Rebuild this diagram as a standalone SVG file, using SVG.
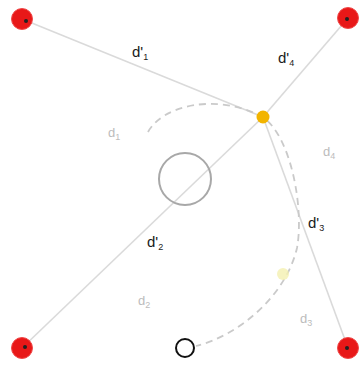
<svg xmlns="http://www.w3.org/2000/svg" width="360" height="368" viewBox="0 0 360 368">
<style>
.ln{stroke:#dadada;stroke-width:1.6;fill:none}
.dash{stroke:#cacaca;stroke-width:1.8;fill:none;stroke-dasharray:7 5}
.red{fill:#e81818;stroke:#f04a4a;stroke-width:1}
.mark{fill:#222}
.lbl{font-family:"Liberation Sans",Arial,sans-serif;font-size:15px;fill:#1a1a1a}
.lbl2{font-family:"Liberation Sans",Arial,sans-serif;font-size:13px;fill:#bcbcbc}
.sub{font-size:9px}
</style>
<rect width="360" height="368" fill="#ffffff"/>
<g id="connectors">
<line class="ln" x1="22" y1="19" x2="263" y2="117"/>
<line class="ln" x1="348" y1="18" x2="263" y2="117"/>
<line class="ln" x1="22" y1="348" x2="263" y2="117"/>
<line class="ln" x1="348" y1="348" x2="263" y2="117"/>
<path class="dash" d="M148,132 C162,106 215,92 263,117 C292,138 304,210 297,248 C286,295 240,335 196,346"/>
</g>
<g id="node-tl"><circle class="red" cx="22" cy="19" r="10.5"/><circle class="mark" cx="26" cy="21" r="2"/></g>
<g id="node-tr"><circle class="red" cx="348" cy="18" r="10.5"/><circle class="mark" cx="347" cy="19" r="2"/></g>
<g id="node-bl"><circle class="red" cx="22" cy="348" r="10.5"/><circle class="mark" cx="25" cy="347" r="2"/></g>
<g id="node-br"><circle class="red" cx="348" cy="348" r="10.5"/><circle class="mark" cx="347" cy="348" r="2"/></g>
<g id="node-center"><circle cx="185" cy="179" r="26" fill="none" stroke="#a8a8a8" stroke-width="2"/></g>
<g id="node-orange"><circle cx="263" cy="117" r="6.5" fill="#f2b400"/></g>
<g id="node-yellow"><circle cx="283" cy="274" r="6" fill="#f4f0b0" opacity="0.8"/></g>
<g id="node-start"><circle cx="185" cy="348" r="9" fill="none" stroke="#111" stroke-width="2"/></g>
<g id="labels">
<text class="lbl" x="132" y="57">d'<tspan class="sub" dy="3">1</tspan></text>
<text class="lbl" x="278" y="63">d'<tspan class="sub" dy="3">4</tspan></text>
<text class="lbl" x="147" y="247">d'<tspan class="sub" dy="3">2</tspan></text>
<text class="lbl" x="308" y="228">d'<tspan class="sub" dy="3">3</tspan></text>
<text class="lbl2" x="108" y="137">d<tspan class="sub" dy="3">1</tspan></text>
<text class="lbl2" x="323" y="156">d<tspan class="sub" dy="3">4</tspan></text>
<text class="lbl2" x="138" y="305">d<tspan class="sub" dy="3">2</tspan></text>
<text class="lbl2" x="300" y="323">d<tspan class="sub" dy="3">3</tspan></text>
</g>
</svg>
